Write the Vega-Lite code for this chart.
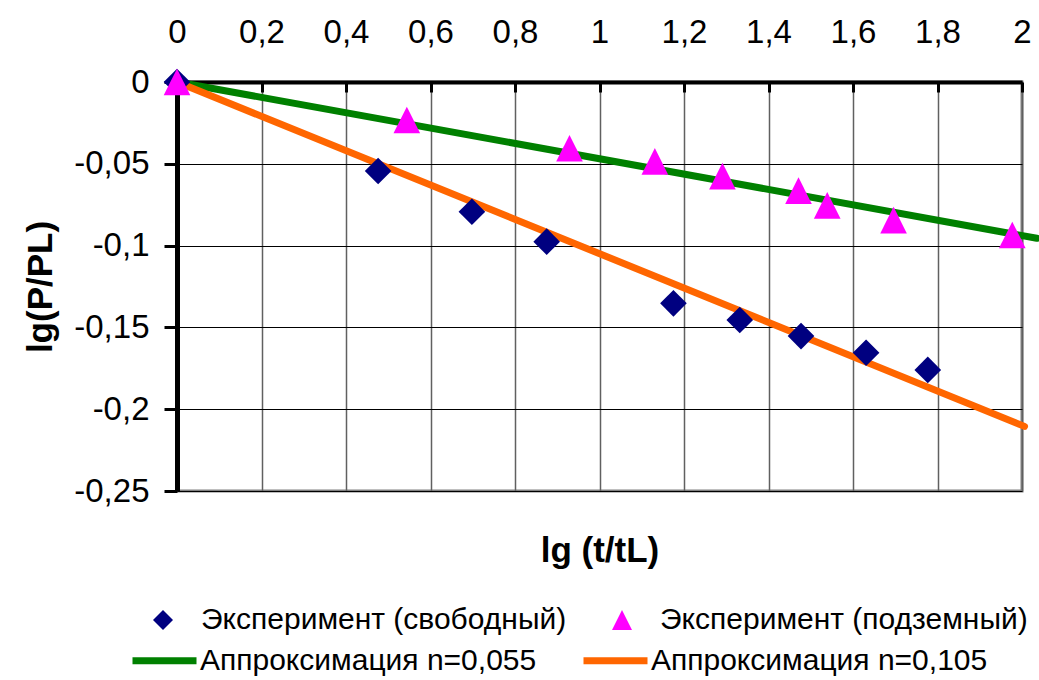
{
  "$schema": "https://vega.github.io/schema/vega-lite/v6.json",
  "width": 845,
  "height": 409,
  "autosize": {"type": "none"},
  "padding": {"left": 177, "top": 82, "right": 17, "bottom": 189},
  "background": "white",
  "config": {
    "font": "Liberation Sans",
    "view": {"stroke": "#808080", "strokeWidth": 3},
    "legend": {"padding": 0, "labelColor": "black", "labelLimit": 0, "labelFontSize": 30, "symbolOpacity": 1}
  },
  "datasets": {
    "lines": [
      {"x": 0, "y": 0, "series": "Аппроксимация n=0,055"},
      {"x": 2.035, "y": -0.0955, "series": "Аппроксимация n=0,055"},
      {"x": 0, "y": 0, "series": "Аппроксимация n=0,105"},
      {"x": 2.006, "y": -0.2105, "series": "Аппроксимация n=0,105"}
    ],
    "points": [
      {"x": 0, "y": 0, "series": "Эксперимент (свободный)"},
      {"x": 0.476, "y": -0.0544, "series": "Эксперимент (свободный)"},
      {"x": 0.698, "y": -0.0793, "series": "Эксперимент (свободный)"},
      {"x": 0.875, "y": -0.0976, "series": "Эксперимент (свободный)"},
      {"x": 1.175, "y": -0.1353, "series": "Эксперимент (свободный)"},
      {"x": 1.332, "y": -0.1455, "series": "Эксперимент (свободный)"},
      {"x": 1.477, "y": -0.1553, "series": "Эксперимент (свободный)"},
      {"x": 1.631, "y": -0.1655, "series": "Эксперимент (свободный)"},
      {"x": 1.777, "y": -0.176, "series": "Эксперимент (свободный)"},
      {"x": 0, "y": 0, "series": "Эксперимент (подземный)"},
      {"x": 0.544, "y": -0.0232, "series": "Эксперимент (подземный)"},
      {"x": 0.929, "y": -0.0405, "series": "Эксперимент (подземный)"},
      {"x": 1.131, "y": -0.0485, "series": "Эксперимент (подземный)"},
      {"x": 1.291, "y": -0.0575, "series": "Эксперимент (подземный)"},
      {"x": 1.471, "y": -0.0664, "series": "Эксперимент (подземный)"},
      {"x": 1.539, "y": -0.0754, "series": "Эксперимент (подземный)"},
      {"x": 1.696, "y": -0.0844, "series": "Эксперимент (подземный)"},
      {"x": 1.977, "y": -0.0935, "series": "Эксперимент (подземный)"}
    ]
  },
  "resolve": {"axis": {"x": "independent"}},
  "layer": [
    {
      "data": {"name": "lines"},
      "mark": {"type": "line", "strokeWidth": 7, "clip": false, "strokeCap": "round"},
      "encoding": {
        "x": {
          "field": "x", "type": "quantitative",
          "scale": {"domain": [0, 2], "nice": false, "zero": false},
          "axis": {"orient": "bottom", "title": "lg (t/tL)", "labels": false, "ticks": false, "domain": false, "grid": false,
                   "titleFontSize": 35, "titleFontWeight": "bold", "titlePadding": 42, "titleColor": "black"}
        },
        "y": {
          "field": "y", "type": "quantitative",
          "scale": {"domain": [-0.25, 0], "nice": false, "zero": false},
          "axis": {"title": "lg(P/PL)", "titleFontSize": 35, "titleFontWeight": "bold", "titlePadding": 15, "titleColor": "black",
                   "values": [0, -0.05, -0.1, -0.15, -0.2, -0.25],
                   "labelExpr": "replace(toString(datum.value), '.', ',')",
                   "labelFontSize": 33, "labelColor": "black", "labelPadding": 15,
                   "tickSize": 13, "tickWidth": 3, "tickColor": "black",
                   "domainColor": "black", "domainWidth": 5,
                   "grid": true, "gridColor": "black", "gridWidth": 1,
                   "labelFlush": false, "labelOverlap": false}
        },
        "stroke": {
          "field": "series", "type": "nominal",
          "scale": {"domain": ["Аппроксимация n=0,055", "Аппроксимация n=0,105"], "range": ["#008000", "#FF6600"]},
          "legend": {"title": null, "orient": "none", "legendX": -48, "legendY": 543, "direction": "horizontal",
                     "symbolType": "stroke", "symbolSize": 4096, "symbolStrokeWidth": 7,
                     "labelOffset": 0, "symbolOffset": 0, "columnPadding": 32}
        }
      }
    },
    {
      "data": {"name": "points"},
      "mark": {"type": "point", "filled": true, "opacity": 1, "clip": false, "strokeWidth": 0, "size": 710},
      "encoding": {
        "x": {
          "field": "x", "type": "quantitative",
          "scale": {"domain": [0, 2], "nice": false, "zero": false},
          "axis": {"orient": "top", "title": null,
                   "values": [0, 0.2, 0.4, 0.6, 0.8, 1, 1.2, 1.4, 1.6, 1.8, 2],
                   "labelExpr": "replace(toString(datum.value), '.', ',')",
                   "labelFontSize": 33, "labelColor": "black", "labelPadding": 43,
                   "tickSize": -10, "tickWidth": 3, "tickColor": "black",
                   "domainColor": "black", "domainWidth": 4,
                   "grid": true, "gridColor": "#606060", "gridWidth": 1.5,
                   "labelFlush": false, "labelOverlap": false}
        },
        "y": {
          "field": "y", "type": "quantitative",
          "scale": {"domain": [-0.25, 0], "nice": false, "zero": false},
          "axis": {"title": "lg(P/PL)", "titleFontSize": 35, "titleFontWeight": "bold", "titlePadding": 15, "titleColor": "black",
                   "values": [0, -0.05, -0.1, -0.15, -0.2, -0.25],
                   "labelExpr": "replace(toString(datum.value), '.', ',')",
                   "labelFontSize": 33, "labelColor": "black", "labelPadding": 15,
                   "tickSize": 13, "tickWidth": 3, "tickColor": "black",
                   "domainColor": "black", "domainWidth": 5,
                   "grid": true, "gridColor": "black", "gridWidth": 1,
                   "labelFlush": false, "labelOverlap": false}
        },
        "fill": {
          "field": "series", "type": "nominal",
          "scale": {"domain": ["Эксперимент (свободный)", "Эксперимент (подземный)"], "range": ["#000080", "#FF00FF"]},
          "legend": {"title": null, "orient": "none", "legendX": -29, "legendY": 523, "direction": "horizontal",
                     "symbolSize": 400, "symbolStrokeWidth": 0, "labelOffset": 23, "symbolOffset": 0, "columnPadding": 40}
        },
        "shape": {
          "field": "series", "type": "nominal",
          "scale": {"domain": ["Эксперимент (свободный)", "Эксперимент (подземный)"], "range": ["diamond", "M0,-1L-1,1L1,1Z"]},
          "legend": {"title": null, "orient": "none", "legendX": -29, "legendY": 523, "direction": "horizontal",
                     "symbolSize": 400, "symbolStrokeWidth": 0, "labelOffset": 23, "symbolOffset": 0, "columnPadding": 40}
        }
      }
    }
  ]
}
